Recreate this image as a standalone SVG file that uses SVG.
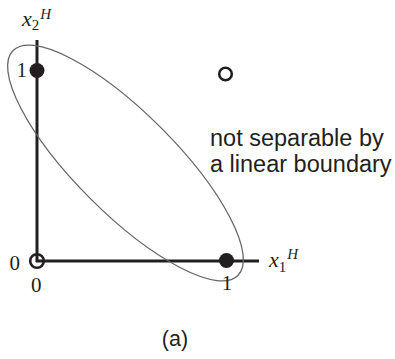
<svg xmlns="http://www.w3.org/2000/svg" width="395" height="359" viewBox="0 0 395 359">
  <style>
    .axis { stroke: #231f20; stroke-width: 3; fill: none; }
    .boundary { stroke: #666; stroke-width: 1.3; fill: none; }
    .filled { fill: #231f20; }
    .open { fill: none; stroke: #231f20; stroke-width: 2.6; }
    .serif { font-family: "Liberation Serif", "Times New Roman", serif; fill: #231f20; }
    .sans { font-family: "Liberation Sans", Arial, sans-serif; fill: #231f20; }
  </style>
  <rect width="395" height="359" fill="#fff"/>
  <g id="connectors">
    <line class="axis" x1="37" y1="40" x2="37" y2="262"/>
    <line class="axis" x1="36" y1="261" x2="259" y2="261"/>
  </g>
  <g id="boundary-ellipse">
    <ellipse class="boundary" cx="125.5" cy="163" rx="159" ry="50" transform="rotate(45 125.5 163)"/>
  </g>
  <g id="point-00">
    <circle class="open" cx="37" cy="261" r="6.8"/>
  </g>
  <g id="point-01">
    <circle class="filled" cx="37" cy="70.5" r="7.5"/>
  </g>
  <g id="point-10">
    <circle class="filled" cx="226.5" cy="260.5" r="7.5"/>
  </g>
  <g id="point-11">
    <circle class="open" cx="225.5" cy="74" r="6.3"/>
  </g>
  <g id="labels">
    <text class="serif" x="22" y="26" font-size="22" font-style="italic">x<tspan font-size="15" font-style="normal" dy="4">2</tspan><tspan font-size="15" dx="1" dy="-11">H</tspan></text>
    <text class="serif" x="269" y="267" font-size="22" font-style="italic">x<tspan font-size="15" font-style="normal" dy="5">1</tspan><tspan font-size="15" dx="1" dy="-13">H</tspan></text>
    <text class="serif" x="27" y="76.5" font-size="21" text-anchor="end">1</text>
    <text class="serif" x="9.5" y="270" font-size="21">0</text>
    <text class="serif" x="31" y="292" font-size="21">0</text>
    <text class="serif" x="227" y="289.5" font-size="21" text-anchor="middle">1</text>
    <text class="sans" x="210" y="146" font-size="23.5">not separable by</text>
    <text class="sans" x="210" y="172" font-size="23.5">a linear boundary</text>
    <text class="sans" x="175" y="346" font-size="21.5" text-anchor="middle">(a)</text>
  </g>
</svg>
